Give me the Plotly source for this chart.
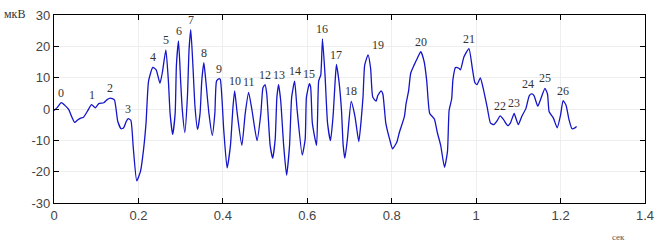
import numpy as np
import plotly.graph_objects as go

# Time (s) and amplitude (µV)
t = [0.000, 0.008, 0.017, 0.027, 0.035, 0.042, 0.049, 0.056, 0.063, 0.070, 0.080, 0.089,
     0.098, 0.106, 0.118, 0.126, 0.133, 0.143, 0.151, 0.159, 0.165, 0.171, 0.176, 0.182,
     0.188, 0.196, 0.205, 0.212, 0.218, 0.224, 0.234, 0.242, 0.251, 0.257, 0.265, 0.271,
     0.275, 0.281, 0.287, 0.290, 0.295, 0.300, 0.304, 0.310, 0.316, 0.320, 0.324, 0.329,
     0.334, 0.340, 0.346, 0.350, 0.355, 0.359, 0.367, 0.375, 0.381, 0.385, 0.391, 0.394,
     0.402, 0.410, 0.418, 0.424, 0.428, 0.434, 0.445, 0.453, 0.461, 0.469, 0.481, 0.490,
     0.495, 0.500, 0.504, 0.512, 0.518, 0.524, 0.528, 0.532, 0.537, 0.544, 0.551, 0.558,
     0.563, 0.570, 0.576, 0.588, 0.595, 0.598, 0.605, 0.608, 0.612, 0.622, 0.627, 0.632,
     0.636, 0.642, 0.648, 0.655, 0.661, 0.666, 0.669, 0.675, 0.681, 0.685, 0.689, 0.695,
     0.704, 0.713, 0.722, 0.727, 0.732, 0.736, 0.744, 0.750, 0.755, 0.763, 0.767, 0.775,
     0.779, 0.786, 0.795, 0.802, 0.812, 0.818, 0.830, 0.834, 0.840, 0.845, 0.853, 0.861,
     0.869, 0.877, 0.883, 0.890, 0.901, 0.908, 0.916, 0.925, 0.932, 0.936, 0.942, 0.945,
     0.951, 0.959, 0.963, 0.971, 0.983, 0.991, 0.997, 1.002, 1.010, 1.018, 1.026, 1.034,
     1.042, 1.049, 1.057, 1.065, 1.075, 1.081, 1.090, 1.094, 1.100, 1.108, 1.118, 1.126,
     1.132, 1.137, 1.146, 1.153, 1.163, 1.169, 1.173, 1.183, 1.192, 1.200, 1.206, 1.213,
     1.220, 1.227, 1.234, 1.238]
amp = [-0.5, 0.5, 2.0, 1.0, -0.2, -2.5, -4.3, -3.5, -2.9, -2.6, -0.5, 1.4,
       0.4, 1.7, 2.0, 3.0, 3.5, 2.9, -3.9, -6.3, -6.0, -4.0, -3.1, -3.6,
       -12.7, -22.9, -19.8, -13.1, -4.5, 8.9, 13.3, 12.5, 8.2, 11.9, 18.9, 8.9,
       -1.4, -8.1, -1.4, 14.0, 21.7, 8.9, -0.4, -7.5, 3.8, 19.1, 25.3, 14.0,
       0.7, -6.5, -1.4, 8.9, 14.8, 9.9, -1.4, -8.4, -1.4, 8.9, 9.7, 9.4,
       -6.5, -18.8, -11.6, 0.7, 5.8, -1.4, -11.6, -1.4, 5.3, -0.4, -10.1, -1.4,
       6.8, 7.8, 4.8, -11.6, -15.7, -9.6, 3.8, 7.8, 2.7, -11.6, -21.1, -11.6,
       3.8, 8.9, -0.4, -14.7, -9.6, 3.8, 8.1, 7.0, -4.5, -11.6, 8.9, 10.9,
       22.4, 10.9, -4.5, -10.1, -2.4, 8.9, 14.2, 8.9, -0.4, -11.6, -15.7, -9.6,
       2.4, -2.4, -10.4, -4.5, 3.8, 14.0, 17.3, 13.0, 3.8, 2.5, 4.3, 5.8,
       4.8, -4.5, -9.6, -12.7, -10.6, -7.5, -2.4, 1.7, 5.8, 11.4, 14.0, 16.3,
       18.3, 15.0, 8.9, -1.4, -3.2, -7.5, -11.6, -18.6, -13.7, -0.4, 3.2, 9.4,
       13.2, 13.0, 12.5, 16.6, 19.3, 13.0, 8.4, 7.8, 9.9, 5.8, 0.7, -4.5,
       -5.0, -3.9, -2.2, -3.4, -5.3, -4.5, -1.4, -2.9, -5.0, -2.4, 0.2, 4.3,
       4.8, 4.3, 0.9, 3.2, 6.6, 4.8, -0.9, -2.9, -6.0, -1.9, 2.7, 1.2,
       -3.4, -6.3, -6.0, -5.6]

# Numbered peaks: label text and time of the peak
peak_labels = [str(i) for i in range(27)]
peak_t = [0.017, 0.089, 0.133, 0.176, 0.234, 0.265, 0.295, 0.324, 0.355, 0.391,
          0.428, 0.461, 0.500, 0.532, 0.570, 0.605, 0.636, 0.669, 0.704, 0.744,
          0.869, 0.983, 1.057, 1.090, 1.132, 1.163, 1.206]

x_ticks = [0, 0.2, 0.4, 0.6, 0.8, 1.0, 1.2, 1.4]
x_ticktext = ["0", "0.2", "0.4", "0.6", "0.8", "1", "1.2", "1.4"]
y_ticks = [-30, -20, -10, 0, 10, 20, 30]
y_ticktext = ["-30", "-20", "-10", "0", "10", "20", "30"]

fig = go.Figure()
fig.add_trace(go.Scatter(x=t, y=amp, mode="lines",
                         line=dict(color="#1414c8", width=1.3, shape="spline", smoothing=0.5),
                         hoverinfo="skip", showlegend=False))

peak_y = np.interp(peak_t, t, amp)
xshift = {"19": 10, "24": -4}
for lab, px, py in zip(peak_labels, peak_t, peak_y):
    fig.add_annotation(x=px, y=py, text=lab, showarrow=False, xref="x", yref="y",
                       yanchor="bottom", yshift=1, xshift=xshift.get(lab, 0),
                       font=dict(family="Liberation Serif", size=12, color="#333333"))

fig.add_annotation(x=-0.045, y=1, xref="paper", yref="paper", text="мкВ", showarrow=False,
                   xanchor="right", yanchor="middle", yshift=1,
                   font=dict(family="Liberation Serif", size=12, color="#333333"))
fig.add_annotation(x=0.955, y=0, xref="paper", yref="paper", text="сек", showarrow=False,
                   xanchor="center", yanchor="top", yshift=-27,
                   font=dict(family="Liberation Serif", size=9, color="#555555"))

axis_common = dict(showline=True, linecolor="black", linewidth=1.3, mirror="ticks",
                   ticks="inside", ticklen=5, tickcolor="black", tickwidth=1,
                   showgrid=True, gridcolor="#eeeeee", gridwidth=1, zeroline=False,
                   tickfont=dict(family="Liberation Sans", size=13, color="#444444"))
fig.update_xaxes(range=[0, 1.4], tickvals=x_ticks, ticktext=x_ticktext, **axis_common)
fig.update_yaxes(range=[-30, 30], tickvals=y_ticks, ticktext=y_ticktext, **axis_common)

fig.update_layout(width=662, height=244, margin=dict(l=54, r=13, t=8, b=41),
                  paper_bgcolor="white", plot_bgcolor="white")

fig.write_html("out.html")
